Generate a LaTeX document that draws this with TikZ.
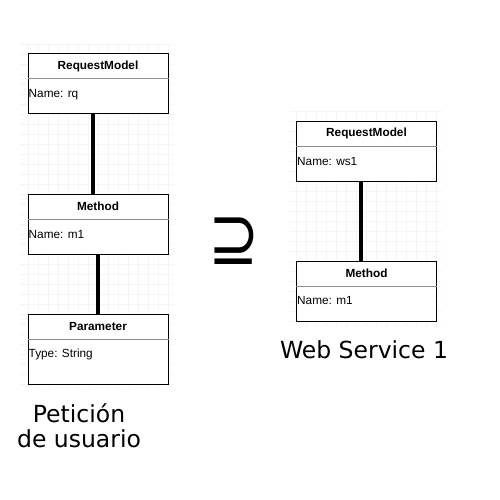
\documentclass[tikz,border=0pt]{standalone}
\usepackage{fontspec}
\setmainfont{Liberation Sans}
\newfontfamily\bigfont{DejaVu Sans}
\usetikzlibrary{positioning,calc}
\tikzstyle{classbox} = [draw=black,fill=white,line width=1pt,minimum width=140pt,inner sep=0pt]
\tikzstyle{classtitle} = [font=\fontsize{11.8}{13}\selectfont\bfseries,minimum height=25pt,inner sep=0pt,anchor=north]
\tikzstyle{classattr} = [font=\fontsize{11.8}{13}\selectfont,inner sep=0pt,anchor=west]
\tikzstyle{divider} = [draw=black!45,line width=0.8pt]
\tikzstyle{assoc} = [line width=4.5pt]
\tikzstyle{gridline} = [draw=black!4,line width=0.6pt]
\tikzstyle{caption} = [font=\bigfont\fontsize{23.5}{25}\selectfont,inner sep=0pt]

\begin{document}
\begin{tikzpicture}[x=1pt,y=-1pt]
    \useasboundingbox (0,0) rectangle (500,500);
    \fill [white] (0,0) rectangle (500,500);

    \foreach \x in {28,38,...,168} \draw [gridline] (\x,44) -- (\x,388);
    \foreach \y in {44,54,...,384} \draw [gridline] (20,\y) -- (173,\y);
    \foreach \x in {296,306,...,436} \draw [gridline] (\x,111) -- (\x,327);
    \foreach \y in {111,121,...,321} \draw [gridline] (290,\y) -- (442,\y);

    \node [classbox,minimum height=60pt] (rq) at (98,84) {};
    \node [classtitle] (rqtitle) at (rq.north) {RequestModel};
    \draw [divider] (rqtitle.south -| rq.west) -- (rqtitle.south -| rq.east);
    \node [classattr] (rqname) at ($(rqtitle.south -| rq.west)+(1,15.5)$) {Name: rq};

    \node [classbox,minimum height=60pt] (method) at (98,224) {};
    \node [classtitle] (methodtitle) at (method.north) {Method};
    \draw [divider] (methodtitle.south -| method.west) -- (methodtitle.south -| method.east);
    \node [classattr] (methodname) at ($(methodtitle.south -| method.west)+(1,15.5)$) {Name: m1};

    \node [classbox,minimum height=70pt] (param) at (98,349) {};
    \node [classtitle] (paramtitle) at (param.north) {Parameter};
    \draw [divider] (paramtitle.south -| param.west) -- (paramtitle.south -| param.east);
    \node [classattr] (paramtype) at ($(paramtitle.south -| param.west)+(1,15.5)$) {Type: String};

    \node [classbox,minimum height=60pt] (wsrq) at (366.5,151) {};
    \node [classtitle] (wsrqtitle) at (wsrq.north) {RequestModel};
    \draw [divider] (wsrqtitle.south -| wsrq.west) -- (wsrqtitle.south -| wsrq.east);
    \node [classattr] (wsrqname) at ($(wsrqtitle.south -| wsrq.west)+(1,15.5)$) {Name: ws1};

    \node [classbox,minimum height=60pt] (wsmethod) at (366.5,291) {};
    \node [classtitle] (wsmethodtitle) at (wsmethod.north) {Method};
    \draw [divider] (wsmethodtitle.south -| wsmethod.west) -- (wsmethodtitle.south -| wsmethod.east);
    \node [classattr] (wsmethodname) at ($(wsmethodtitle.south -| wsmethod.west)+(1,15)$) {Name: m1};

    \draw [assoc] ([xshift=-5pt]rq.south) -- ([xshift=-5pt]method.north);
    \draw [assoc] (method.south) -- (param.north);
    \draw [assoc] ([xshift=-5.5pt]wsrq.south) -- ([xshift=-5.5pt]wsmethod.north);

    \node [font=\bigfont\fontsize{76}{76}\selectfont,inner sep=0pt,xscale=0.8] (supseteq) at (234,241) {⊇};

    \node [caption,anchor=base] (ws) at (364,358) {Web Service 1};
    \node [caption,align=center,anchor=north] (user) at (79,403) {Petición\\de usuario};
\end{tikzpicture}
\end{document}
